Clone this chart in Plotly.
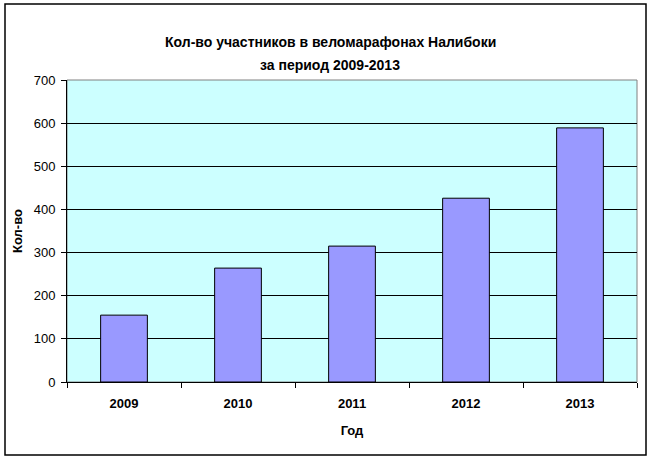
import plotly.graph_objects as go

years = ['2009', '2010', '2011', '2012', '2013']
participants = [155, 264, 315, 426, 589]

y_ticks = [0, 100, 200, 300, 400, 500, 600, 700]

W, H = 654, 464
L, R, T, B = 67, 17, 80, 82
FONT = 'Liberation Sans, Arial, sans-serif'


def px_x(px):
    return (px - L) / (W - L - R)


def px_y(py):
    return (H - B - py) / (H - T - B)


fig = go.Figure()

fig.add_trace(go.Bar(
    x=years,
    y=participants,
    marker_color='#9999FF',
    marker_line_color='black',
    marker_line_width=1,
    showlegend=False,
))

fig.update_layout(
    width=W, height=H,
    margin=dict(l=L, r=R, t=T, b=B),
    paper_bgcolor='white',
    plot_bgcolor='#CCFFFF',
    bargap=0.59,
    font=dict(family=FONT, color='black'),
    annotations=[
        dict(text='<b>Кол-во участников в веломарафонах Налибоки</b>',
             xref='paper', yref='paper', x=px_x(330), y=px_y(32),
             showarrow=False, font=dict(size=14, family=FONT)),
        dict(text='<b>за период 2009-2013</b>',
             xref='paper', yref='paper', x=px_x(330), y=px_y(55),
             showarrow=False, font=dict(size=14, family=FONT)),
    ],
    shapes=[
        # plot area frame (grey top/right)
        dict(type='rect', xref='paper', yref='paper', x0=0, x1=1, y0=0, y1=1,
             line=dict(color='#808080', width=1), layer='below'),
        # outer chart border
        dict(type='rect', xref='paper', yref='paper',
             x0=px_x(5), x1=px_x(646), y0=px_y(455), y1=px_y(4),
             line=dict(color='black', width=1.5)),
    ],
)

fig.update_xaxes(
    type='category',
    showline=True, linecolor='black', linewidth=1,
    ticks='outside', tickson='boundaries', ticklen=5, tickcolor='black',
    tickfont=dict(size=13, family=FONT),
    tickprefix='<b>', ticksuffix='</b>',
    ticklabelstandoff=9,
    title=dict(text='<b>Год</b>', font=dict(size=13), standoff=16),
    showgrid=False,
)

fig.update_yaxes(
    range=[0, 700],
    tickvals=y_ticks,
    showline=True, linecolor='black', linewidth=1,
    ticks='outside', ticklen=5, tickcolor='black',
    tickfont=dict(size=13, family=FONT),
    tickprefix='<b>', ticksuffix='</b>',
    ticklabelstandoff=3,
    showgrid=True, gridcolor='black', gridwidth=1,
    zeroline=False,
    title=dict(text='<b>Кол-во</b>', font=dict(size=13), standoff=8),
)

fig.write_html("out.html", config={'displayModeBar': False},
               post_script="document.body.style.margin='0';")
